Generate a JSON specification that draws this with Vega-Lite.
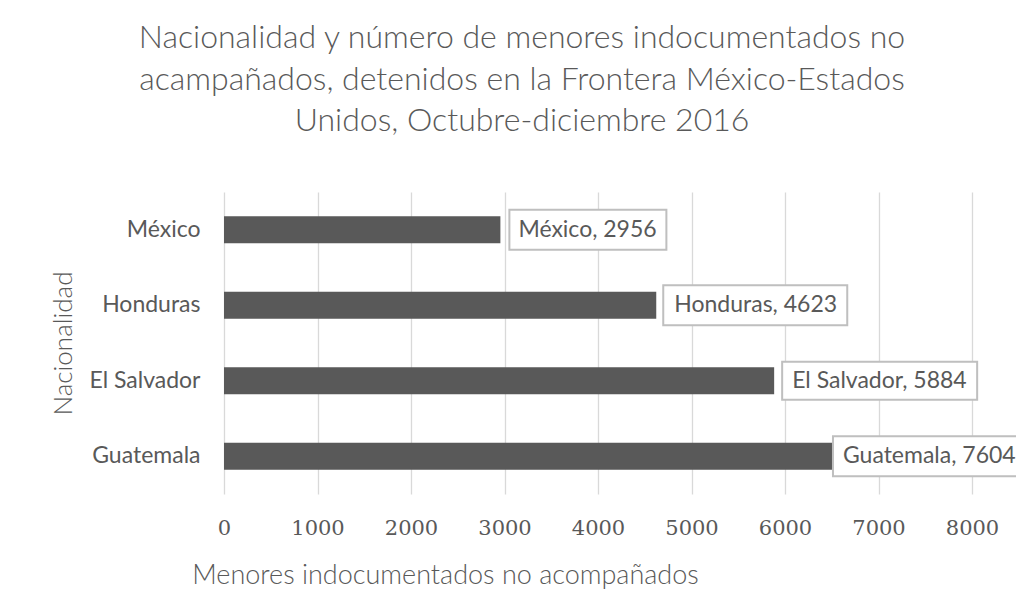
{
  "$schema": "https://vega.github.io/schema/vega-lite/v6.json",
  "autosize": {"type": "none"},
  "width": 748,
  "height": 302,
  "padding": {"left": 224, "top": 192, "right": 44, "bottom": 118},
  "background": "white",
  "title": {
    "text": ["Nacionalidad y número de menores indocumentados no", "acampañados, detenidos en la Frontera México-Estados", "Unidos, Octubre-diciembre 2016"],
    "anchor": "middle",
    "frame": "group",
    "dx": -76,
    "offset": 54,
    "font": "Lato",
    "fontSize": 32,
    "fontWeight": 300,
    "color": "#595959",
    "lineHeight": 41.5
  },
  "data": {
    "values": [
      {"pais": "México", "menores": 2956, "etiqueta": "México, 2956"},
      {"pais": "Honduras", "menores": 4623, "etiqueta": "Honduras, 4623"},
      {"pais": "El Salvador", "menores": 5884, "etiqueta": "El Salvador, 5884"},
      {"pais": "Guatemala", "menores": 7604, "etiqueta": "Guatemala, 7604"}
    ]
  },
  "encoding": {
    "y": {
      "field": "pais",
      "type": "nominal",
      "sort": ["México", "Honduras", "El Salvador", "Guatemala"],
      "scale": {"paddingInner": 0.64, "paddingOuter": 0.32},
      "axis": {
        "title": "Nacionalidad",
        "titleFont": "Lato",
        "titleFontSize": 26,
        "titleFontWeight": 300,
        "titleColor": "#595959",
        "titleX": -161,
        "titleY": 151,
        "titleAngle": -90,
        "titleAlign": "center",
        "titleBaseline": "middle",
        "labelFont": "Lato",
        "labelFontSize": 23,
        "labelColor": "#595959",
        "labelPadding": 24,
        "ticks": false,
        "domain": false,
        "grid": false
      }
    },
    "x": {
      "field": "menores",
      "type": "quantitative",
      "scale": {"domain": [0, 8000], "nice": false},
      "axis": {
        "title": "Menores indocumentados no acompañados",
        "titleFont": "Lato",
        "titleFontSize": 27,
        "titleFontWeight": 300,
        "titleColor": "#595959",
        "titleX": 221,
        "titleY": 81,
        "titleAlign": "center",
        "titleBaseline": "middle",
        "values": [0, 1000, 2000, 3000, 4000, 5000, 6000, 7000, 8000],
        "format": "d",
        "labelFont": "DejaVu Serif",
        "labelFontSize": 21,
        "labelColor": "#595959",
        "labelPadding": 23,
        "labelFlush": false,
        "ticks": false,
        "domain": false,
        "grid": true,
        "gridColor": "#d9d9d9",
        "gridWidth": 1.3
      }
    }
  },
  "layer": [
    {
      "mark": {"type": "bar", "color": "#595959"}
    },
    {
      "mark": {"type": "point", "filled": true, "fill": "white", "stroke": "#bfbfbf", "strokeWidth": 2, "size": 4, "opacity": 1, "fillOpacity": 1, "strokeOpacity": 1},
      "encoding": {
        "shape": {
          "field": "pais",
          "type": "nominal",
          "legend": null,
          "scale": {
            "domain": ["México", "Honduras", "El Salvador", "Guatemala"],
            "range": ["M9,-20H166V20H9Z", "M7,-20H191V20H7Z", "M8,-19H203V19H8Z", "M-102,-20H120V20H-102Z"]
          }
        }
      }
    },
    {
      "transform": [{"filter": "datum.pais !== 'Guatemala'"}],
      "mark": {"type": "text", "align": "left", "baseline": "middle", "dx": 18, "font": "Lato", "fontSize": 23, "color": "#595959"},
      "encoding": {"text": {"field": "etiqueta"}}
    },
    {
      "transform": [{"filter": "datum.pais === 'Guatemala'"}],
      "mark": {"type": "text", "align": "left", "baseline": "middle", "dx": -92, "font": "Lato", "fontSize": 23, "color": "#595959"},
      "encoding": {"text": {"field": "etiqueta"}}
    }
  ],
  "config": {"view": {"stroke": null}}
}
